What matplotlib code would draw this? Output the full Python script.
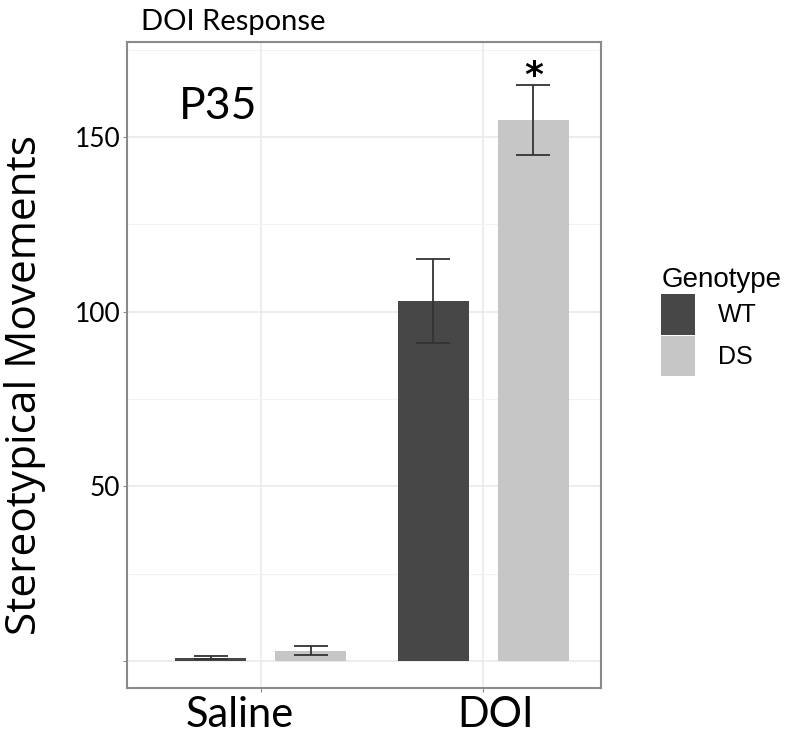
import matplotlib
matplotlib.use("Agg")
import matplotlib.pyplot as plt
import numpy as np

# data
treatments = ["Saline", "DOI"]
genotypes = ["WT", "DS"]
wt_means = [1.0, 103.0]
wt_err = [0.5, 12.0]
ds_means = [3.0, 155.0]
ds_err = [1.2, 10.0]
colors = {"WT": "#474747", "DS": "#c6c6c6"}

plt.rcParams['font.family'] = ['Lato', 'DejaVu Sans']

fig = plt.figure(figsize=(8, 7.34), dpi=100)
ax = fig.add_axes([0.159, 0.0627, 0.5925, 0.880])

x = np.arange(len(treatments))
w = 0.32
off = 0.225

ax.set_axisbelow(True)
ax.bar(x - off, wt_means, w, color=colors["WT"], label="WT", zorder=2)
ax.bar(x + off, ds_means, w, color=colors["DS"], label="DS", zorder=2)
ax.errorbar(x - off, wt_means, yerr=wt_err, fmt='none', ecolor='#333333',
            elinewidth=1.3, capsize=12, capthick=1.3, zorder=3)
ax.errorbar(x + off, ds_means, yerr=ds_err, fmt='none', ecolor='#333333',
            elinewidth=1.3, capsize=12, capthick=1.3, zorder=3)

# significance star
ax.text(x[1] + off, ds_means[1] + ds_err[1] + 2.4, "*", ha='center', va='center',
        fontsize=26, fontweight='bold', family='DejaVu Sans')

ax.set_xlim(-0.6, 1.53)
ax.set_ylim(-7.7, 177.2)

ax.set_yticks([0, 50, 100, 150])
ax.set_yticklabels(["", "50", "100", "150"], fontsize=19)
ax.set_yticks([25, 75, 125, 175], minor=True)
ax.set_xticks(x)
ax.set_xticklabels([])
# category labels sit a little off their ticks in the original
for xi, name, dx in zip(x, treatments, [-0.095, 0.055]):
    ax.text(xi + dx, -0.012, name, transform=ax.get_xaxis_transform(),
            ha='center', va='top', fontsize=30)

ax.grid(True, which='major', color='#e8e8e8', linewidth=1.1)
ax.grid(True, which='minor', axis='y', color='#f2f2f2', linewidth=0.8)

for s in ax.spines.values():
    s.set_color('#8a8a8a')
    s.set_linewidth(1.5)
ax.tick_params(axis='both', which='both', length=3, color='#8a8a8a', pad=2)
ax.tick_params(axis='y', which='minor', length=0)

ax.set_ylabel("Stereotypical Movements", fontsize=30.5, family='Open Sans')
ax.yaxis.set_label_coords(-0.172, 0.469)
fig.text(0.291, 0.97, "DOI Response", fontsize=21, ha='center', va='center')

ax.text(0.11, 0.9, "P35", transform=ax.transAxes, fontsize=32, ha='left', va='center')

leg = ax.legend(title="Genotype", loc='upper left', bbox_to_anchor=(0.811, 0.653),
                bbox_transform=fig.transFigure, frameon=False, borderpad=0,
                prop={'family': 'Liberation Sans', 'size': 18},
                handlelength=1.35, handleheight=2.1, handletextpad=0.9,
                labelspacing=0.05)
leg.get_title().set_fontsize(20)
leg.get_title().set_family('Liberation Sans')
leg._legend_box.align = "left"

fig.savefig("out.png", dpi=100)
